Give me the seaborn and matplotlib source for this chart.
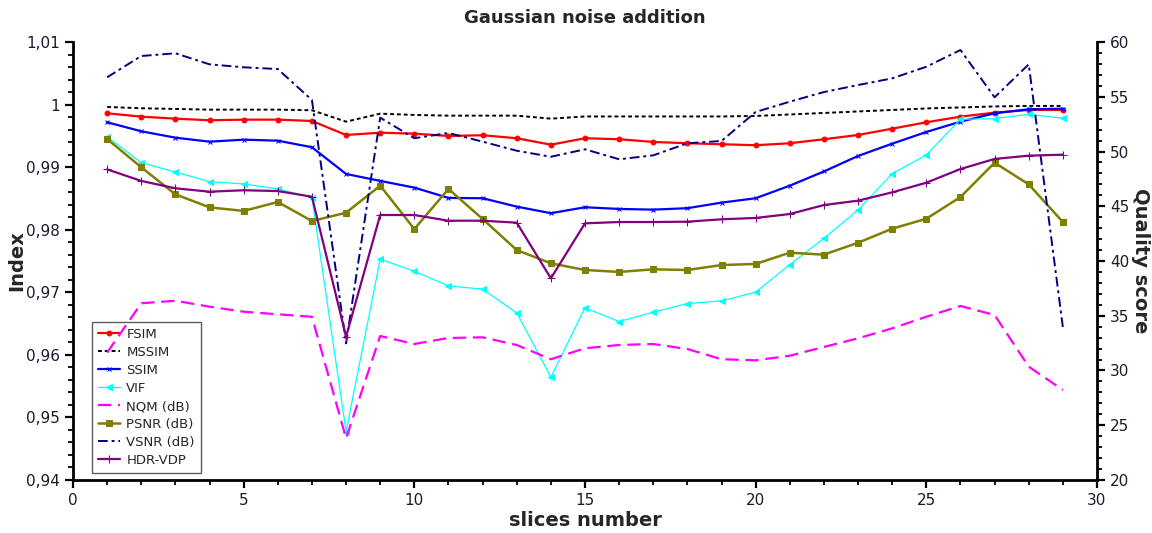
import numpy as np
import pandas as pd
import matplotlib
matplotlib.use("Agg")
import matplotlib.pyplot as plt
from matplotlib.ticker import MultipleLocator, FuncFormatter
import seaborn as sns

# Данные
slices = list(range(1, 30))

fsim = [0.99861, 0.99807, 0.99775, 0.99749, 0.99759, 0.99759, 0.99738, 0.99514, 0.99551, 0.99535,
        0.99498, 0.99510, 0.99462, 0.99359, 0.99462, 0.99446, 0.99403, 0.99382, 0.99366, 0.99350,
        0.99382, 0.99446, 0.99514, 0.99615, 0.99717, 0.99807, 0.99871, 0.99914, 0.99914]
mssim = [0.99962, 0.99941, 0.99930, 0.99919, 0.99919, 0.99919, 0.99909, 0.99727, 0.99855, 0.99834,
         0.99823, 0.99823, 0.99823, 0.99775, 0.99810, 0.99810, 0.99810, 0.99810, 0.99810, 0.99818,
         0.99842, 0.99866, 0.99890, 0.99914, 0.99938, 0.99954, 0.99970, 0.99978, 0.99978]
ssim = [0.99717, 0.99573, 0.99471, 0.99407, 0.99439, 0.99423, 0.99318, 0.98891, 0.98780, 0.98673,
        0.98508, 0.98503, 0.98369, 0.98264, 0.98359, 0.98332, 0.98321, 0.98344, 0.98433, 0.98503,
        0.98704, 0.98931, 0.99179, 0.99375, 0.99562, 0.99727, 0.99861, 0.99925, 0.99934]
vif = [0.99487, 0.99072, 0.98923, 0.98768, 0.98732, 0.98652, 0.98513, 0.94775, 0.97529, 0.97337,
       0.97102, 0.97050, 0.96671, 0.95644, 0.96751, 0.96532, 0.96682, 0.96820, 0.96863, 0.97002,
       0.97442, 0.97861, 0.98316, 0.98895, 0.99195, 0.99765, 0.99775, 0.99845, 0.99781]

nqm = [31.63, 36.14, 36.37, 35.83, 35.37, 35.13, 34.91, 23.81, 33.15, 32.42,
       32.97, 33.03, 32.33, 31.03, 32.03, 32.33, 32.42, 31.96, 31.03, 30.93,
       31.35, 32.15, 32.94, 33.85, 34.91, 35.89, 35.07, 30.35, 28.22]
psnr = [51.14, 48.56, 46.09, 44.90, 44.57, 45.39, 43.65, 44.41, 46.88, 42.92,
        46.58, 43.84, 41.00, 39.79, 39.18, 39.00, 39.24, 39.18, 39.63, 39.73,
        40.76, 40.58, 41.67, 42.95, 43.86, 45.84, 48.98, 47.00, 43.56]
vsnr = [56.78, 58.72, 58.97, 57.96, 57.69, 57.53, 54.70, 32.48, 53.09, 51.21,
        51.69, 50.90, 50.07, 49.52, 50.20, 49.29, 49.65, 50.75, 50.96, 53.61,
        54.55, 55.43, 56.07, 56.68, 57.74, 59.27, 54.95, 57.96, 33.95]
hdrvdp = [48.37, 47.31, 46.64, 46.33, 46.46, 46.39, 45.87, 33.09, 44.20, 44.20,
          43.68, 43.68, 43.50, 38.42, 43.44, 43.56, 43.56, 43.59, 43.81, 43.93,
          44.29, 45.11, 45.51, 46.27, 47.15, 48.40, 49.32, 49.62, 49.71]

df_index = pd.DataFrame({"slice": slices, "FSIM": fsim, "MSSIM": mssim, "SSIM": ssim, "VIF": vif})
df_score = pd.DataFrame({"slice": slices, "NQM (dB)": nqm, "PSNR (dB)": psnr,
                         "VSNR (dB)": vsnr, "HDR-VDP": hdrvdp})

sns.set_theme(style="white")
plt.rcParams["font.family"] = ["DejaVu Sans"]

fig = plt.figure(figsize=(11.52, 5.33), dpi=100)
ax = fig.add_axes([73 / 1152, 1 - 480 / 533, 1024 / 1152, 438 / 533])
ax2 = ax.twinx()

# Стили линий: цвет, маркер, тип линии, толщина, размер маркера
styles = {
    "FSIM": ("#ff0000", "o", "-", 1.6, 3.5),
    "MSSIM": ("#000000", None, (0, (2, 1.5)), 1.4, 0),
    "SSIM": ("#0000ff", "x", "-", 1.6, 3.5),
    "VIF": ("#00ffff", "<", "-", 0.9, 5),
    "NQM (dB)": ("#ff00ff", None, (0, (6, 3)), 1.6, 0),
    "PSNR (dB)": ("#808000", "s", "-", 1.8, 4),
    "VSNR (dB)": ("#000080", None, (0, (5, 2, 1.5, 2)), 1.4, 0),
    "HDR-VDP": ("#800080", "+", "-", 1.6, 6),
}

for name in ["FSIM", "MSSIM", "SSIM", "VIF"]:
    c, m, ls, lw, ms = styles[name]
    sns.lineplot(data=df_index, x="slice", y=name, ax=ax, color=c, marker=m,
                 markersize=ms, markeredgecolor=c, linestyle=ls, linewidth=lw, label=name)
for name in ["NQM (dB)", "PSNR (dB)", "VSNR (dB)", "HDR-VDP"]:
    c, m, ls, lw, ms = styles[name]
    sns.lineplot(data=df_score, x="slice", y=name, ax=ax2, color=c, marker=m,
                 markersize=ms, markeredgecolor=c, linestyle=ls, linewidth=lw, label=name)

h1, l1 = ax.get_legend_handles_labels()
h2, l2 = ax2.get_legend_handles_labels()
if ax2.get_legend() is not None:
    ax2.get_legend().remove()
order = ["FSIM", "MSSIM", "SSIM", "VIF", "NQM (dB)", "PSNR (dB)", "VSNR (dB)", "HDR-VDP"]
hm = dict(zip(l1 + l2, h1 + h2))
leg = ax.legend([hm[k] for k in order], order, loc="lower left", bbox_to_anchor=(0.0186, 0.016),
                borderaxespad=0, fontsize=9.5, frameon=True, fancybox=False, handlelength=1.7,
                borderpad=0.45, labelspacing=0.38, handletextpad=0.45)
leg.get_frame().set_edgecolor("#333333")
leg.get_frame().set_linewidth(1.0)

# Оси
ax.set_xlim(0, 30)
ax.set_ylim(0.94, 1.01)
ax2.set_ylim(20, 60)
ax.xaxis.set_major_locator(MultipleLocator(5))
ax.xaxis.set_minor_locator(MultipleLocator(1))
ax.yaxis.set_major_locator(MultipleLocator(0.01))
ax.yaxis.set_minor_locator(MultipleLocator(0.002))
ax2.yaxis.set_major_locator(MultipleLocator(5))
ax2.yaxis.set_minor_locator(MultipleLocator(1))
ax.yaxis.set_major_formatter(FuncFormatter(lambda v, p: f"{round(v, 3):g}".replace(".", ",")))

for a in (ax, ax2):
    a.spines["top"].set_visible(False)
    for s in ("left", "right", "bottom"):
        a.spines[s].set_linewidth(2)
        a.spines[s].set_color("black")
    a.tick_params(which="major", direction="out", length=6, width=1.6, labelsize=11,
                  colors="black", labelcolor="#1a1a2e")
    a.tick_params(which="minor", direction="out", length=3.5, width=1.3, colors="black")
ax.spines["right"].set_visible(False)
ax2.spines["left"].set_visible(False)
ax2.spines["bottom"].set_visible(False)
ax.tick_params(axis="both", which="both", left=True, bottom=True)
ax2.tick_params(axis="y", which="both", right=True)

ax.set_title("Gaussian noise addition", fontsize=13, fontweight="bold", pad=14)
ax.set_xlabel("slices number", fontsize=14, fontweight="bold", labelpad=2)
ax.set_ylabel("Index", fontsize=14, fontweight="bold", labelpad=0)
ax2.set_ylabel("Quality score", fontsize=14, fontweight="bold", rotation=270, labelpad=15)

ax.set_facecolor("white")
fig.set_facecolor("white")

plt.savefig("out.png", dpi=100)
